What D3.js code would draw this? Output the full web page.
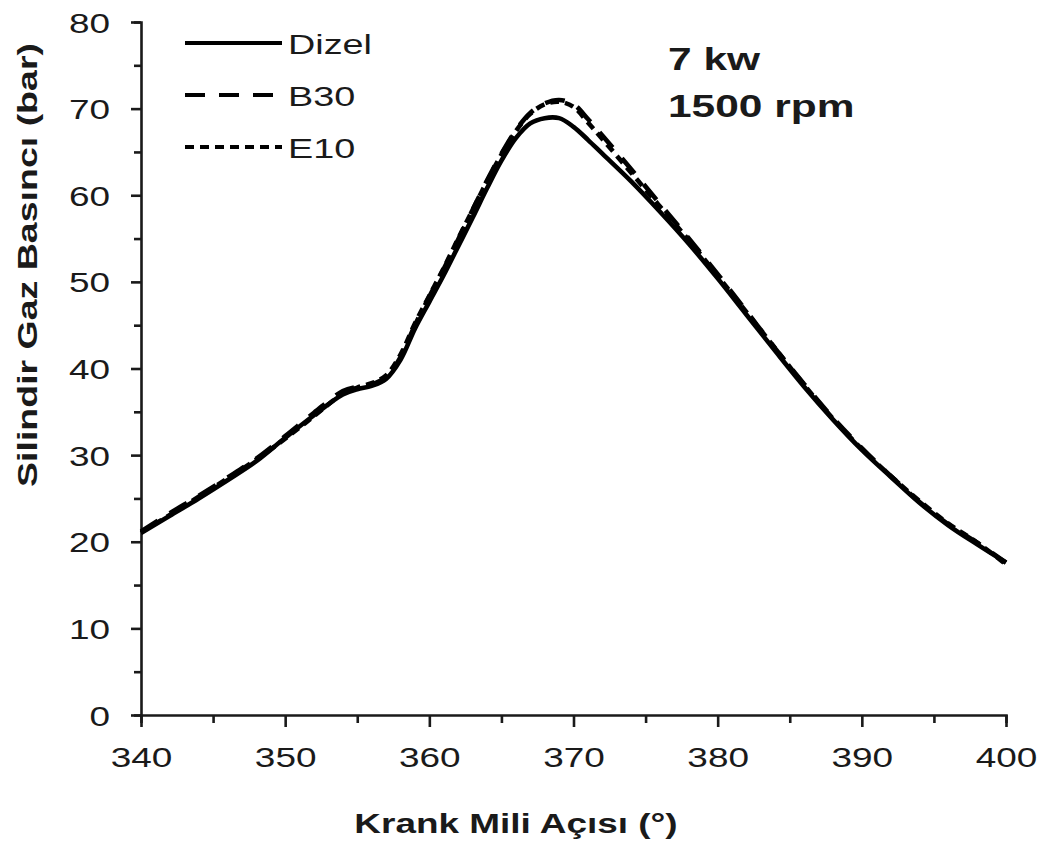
<!DOCTYPE html>
<html>
<head>
<meta charset="utf-8">
<script src="https://cdn.jsdelivr.net/npm/d3@7/dist/d3.min.js"></script>
<style>
  html, body { margin: 0; padding: 0; background: #fff; }
  svg { display: block; }
  text { font-family: "Liberation Sans", Arial, sans-serif; fill: #1a1a1a; }
</style>
</head>
<body>
<svg id="chart" width="1048" height="847"></svg>
<script>
// ---- data ----
const angles = [340,342,344,346,348,350,352,354,355,356,357,358,359,360,361,362,363,364,365,366,367,368,369,370,371,372,374,376,378,380,382,384,386,388,390,392,394,396,398,400];
const dizel = [21.0,23.0,25.0,27.1,29.3,32.0,34.6,37.0,37.6,38.0,38.8,41.0,44.6,47.7,50.8,54.1,57.4,60.8,64.0,66.6,68.3,68.9,68.9,67.9,66.4,64.8,61.6,58.1,54.4,50.4,46.2,42.0,37.9,34.1,30.6,27.5,24.5,21.9,19.7,17.6];
const b30 = [21.2,23.3,25.3,27.4,29.6,32.2,34.9,37.4,37.9,38.2,39.0,41.3,45.0,48.3,51.5,54.9,58.3,61.7,64.8,67.5,69.5,70.6,71.0,70.5,68.8,66.9,63.0,59.0,55.0,50.9,46.6,42.3,38.2,34.3,30.8,27.6,24.6,22.0,19.9,17.6];
const e10 = [21.1,23.1,25.2,27.3,29.5,31.9,34.5,37.1,37.8,38.3,39.2,41.6,45.2,48.4,51.6,55.0,58.3,61.6,64.7,67.4,69.4,70.5,70.8,70.2,68.4,66.5,62.6,58.7,54.8,50.7,46.5,42.3,38.1,34.2,30.7,27.6,24.7,22.1,19.9,17.4];
const seriesNames = ["Dizel","B30","E10"];
const xTicks = [340,345,350,355,360,365,370,375,380,385,390,395,400];
const yTicks = [0,5,10,15,20,25,30,35,40,45,50,55,60,65,70,75,80];
const xTitle = "Krank Mili Açısı (°)";
const yTitle = "Silindir Gaz Basıncı (bar)";
const annot = ["7 kw","1500 rpm"];

// ---- drawing ----
const svg = d3.select("#chart");
const x = d3.scaleLinear().domain([340,400]).range([141,1006]);
const y = d3.scaleLinear().domain([0,80]).range([715,22]);
const SX = 1.32;

const series = [
  {name: seriesNames[0], vals: dizel, dash: null},
  {name: seriesNames[1], vals: b30, dash: "20,14"},
  {name: seriesNames[2], vals: e10, dash: "9,6"}
];

// x axis
const xAxis = d3.axisBottom(x).tickValues(xTicks).tickSizeOuter(0).tickSize(8)
  .tickFormat(d => d % 10 === 0 ? d : "");
const gx = svg.append("g").attr("transform","translate(0,715)").call(xAxis);
gx.select(".domain").attr("stroke","#1a1a1a").attr("stroke-width",2.6);
gx.selectAll(".tick line").attr("stroke","#1a1a1a").attr("stroke-width",2.6)
  .attr("y2", d => d % 10 === 0 ? 12 : 8);
gx.selectAll(".tick text").attr("font-size",28).attr("fill","#2a2a2a")
  .attr("y", 32).attr("dy","0.71em")
  .attr("transform", `scale(${SX},1)`);

// y axis
const yAxis = d3.axisLeft(y).tickValues(yTicks).tickSizeOuter(0).tickSize(7)
  .tickFormat(d => d % 10 === 0 ? d : "");
const gy = svg.append("g").attr("transform","translate(141,0)").call(yAxis);
gy.select(".domain").attr("stroke","#1a1a1a").attr("stroke-width",2.6);
gy.selectAll(".tick line").attr("stroke","#1a1a1a").attr("stroke-width",2.6)
  .attr("x2", d => d % 10 === 0 ? -10 : -7);
gy.selectAll(".tick text").attr("font-size",28).attr("fill","#2a2a2a")
  .attr("x", -31/SX).attr("dy","0.36em")
  .attr("transform", `scale(${SX},1)`);

// lines
const line = d3.line().x((d,i)=>x(angles[i])).y(d=>y(d)).curve(d3.curveCatmullRom);
[series[1], series[2], series[0]].forEach(s => {
  svg.append("path").datum(s.vals).attr("d", line)
    .attr("fill","none").attr("stroke","#000").attr("stroke-width",4.6)
    .attr("stroke-linejoin","round")
    .attr("stroke-dasharray", s.dash);
});

// legend
const legY = [43,95,147];
series.forEach((s,i) => {
  svg.append("line").attr("x1",185).attr("x2",282).attr("y1",legY[i]).attr("y2",legY[i])
    .attr("stroke","#000").attr("stroke-width",4).attr("stroke-dasharray", s.dash);
  svg.append("text").attr("transform",`translate(288,${legY[i]+11}) scale(1.35,1)`)
    .attr("font-size",28).attr("fill","#2a2a2a").text(s.name);
});

// annotation
svg.append("text").attr("transform",`translate(668,70) scale(1.37,1)`)
  .attr("font-size",31).attr("font-weight","bold").text(annot[0]);
svg.append("text").attr("transform",`translate(668,117) scale(1.37,1)`)
  .attr("font-size",31).attr("font-weight","bold").text(annot[1]);

// axis titles
svg.append("text").attr("transform",`translate(516,833) scale(1.32,1)`)
  .attr("text-anchor","middle").attr("font-size",28).attr("font-weight","bold").text(xTitle);
svg.append("text").attr("transform",`translate(37,265) rotate(-90) scale(1.34,1)`)
  .attr("text-anchor","middle").attr("font-size",28).attr("font-weight","bold").text(yTitle);
</script>
</body>
</html>
